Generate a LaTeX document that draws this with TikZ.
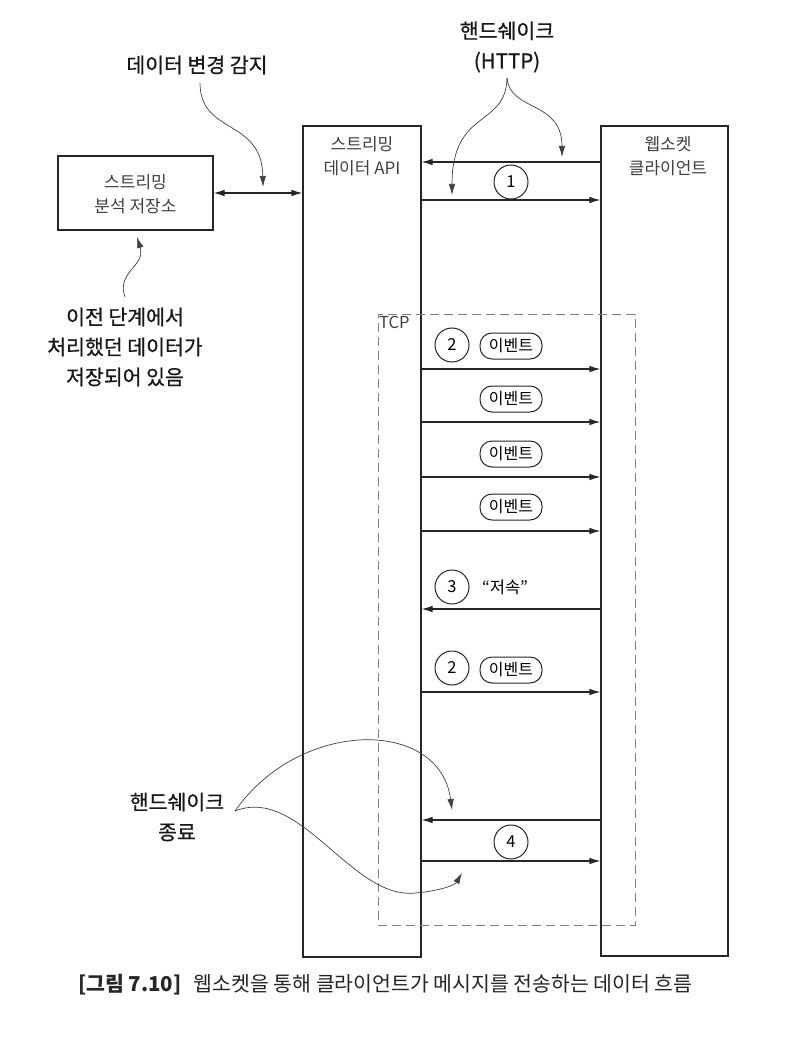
\documentclass[tikz,border=0pt]{standalone}
\usepackage{fontspec}
\setmainfont{Noto Sans CJK KR}
\newfontfamily\lblfont[FakeBold=0.7]{Noto Sans CJK KR}
\usetikzlibrary{arrows.meta,calc}
\begin{document}
\begin{tikzpicture}[x=1pt,y=-1pt,
  box/.style={draw=black!85,line width=1.1pt,inner sep=0pt},
  boxlabel/.style={text=black!75,font=\fontsize{17}{24.5}\selectfont,align=center,inner sep=0pt},
  biglabel/.style={text=black!90,font=\lblfont\fontsize{20.5}{30}\selectfont,align=center,inner sep=0pt},
  msg/.style={line width=1.1pt,draw=black!85,-{Latex[length=11pt,width=6.5pt]}},
  note/.style={line width=0.7pt,draw=black!75,-{Latex[length=11pt,width=6.5pt]}},
  circ/.style={draw=black!85,line width=1pt,circle,minimum size=34pt,inner sep=0pt,font=\fontsize{16.5}{16.5}\selectfont},
  pill/.style={draw=black!85,line width=1pt,rounded corners=12pt,minimum width=62pt,minimum height=26pt,inner sep=0pt,font=\fontsize{16}{16}\selectfont},
  tcpbox/.style={draw=black!50,line width=1pt,dash pattern=on 9pt off 5pt}
]
\useasboundingbox (0,0) rectangle (796,1040);
\fill[white] (0,0) rectangle (796,1040);

% main boxes
\node[box,minimum width=155pt,minimum height=74pt] (store) at (135.5,193) {};
\node[box,minimum width=118pt,minimum height=831pt] (api) at (362,541.5) {};
\node[box,minimum width=127pt,minimum height=830pt] (client) at (664.5,541) {};
\node[tcpbox,minimum width=257pt,minimum height=611pt,inner sep=0pt] (tcp) at (506.5,619.5) {};

\node[boxlabel] (storetxt) at (135.5,194) {스트리밍\\분석 저장소};
\node[boxlabel] (apitxt) at (362,156) {스트리밍\\데이터 API};
\node[boxlabel] (clienttxt) at (668,156) {웹소켓\\클라이언트};
\node[text=black!75,font=\fontsize{16.5}{16.5}\selectfont,anchor=north west,inner sep=0pt] (tcptxt) at (379,316) {TCP};

% outer labels
\node[biglabel] (detect) at (197,65) {데이터 변경 감지};
\node[biglabel] (hs) at (507,47) {핸드쉐이크\\(HTTP)};
\node[biglabel] (prev) at (125,347) {이전 단계에서\\처리했던 데이터가\\저장되어 있음};
\node[biglabel] (hsend) at (177,817) {핸드쉐이크\\종료};

% row coordinates
\coordinate (y1a) at (0,162);
\coordinate (y1b) at (0,200);
\coordinate (y2a) at (0,369);
\coordinate (y2b) at (0,422);
\coordinate (y2c) at (0,477);
\coordinate (y2d) at (0,531);
\coordinate (y3) at (0,609);
\coordinate (y2e) at (0,692);
\coordinate (y4a) at (0,820);
\coordinate (y4b) at (0,861);

% store <-> api
\draw[line width=1.1pt,draw=black!85,{Latex[length=11pt,width=6.5pt]}-{Latex[length=11pt,width=6.5pt]}] (store.east) -- (store.east -| api.west);

% handshake 1
\draw[msg] (client.west |- y1a) -- (api.east |- y1a);
\draw[msg] (api.east |- y1b) -- (client.west |- y1b);
\node[circ] (c1) at (511,182) {1};

% events
\node[circ] (c2) at (452,345) {2};
\node[pill] (e1) at (511,346) {이벤트};
\node[pill] (e2) at (511,399) {이벤트};
\node[pill] (e3) at (511,454) {이벤트};
\node[pill] (e4) at (511,507) {이벤트};
\foreach \r in {y2a,y2b,y2c,y2d,y2e}{
  \draw[msg] (api.east |- \r) -- (client.west |- \r);
}
\node[circ] (c3) at (452,587) {3};
\node[font=\fontsize{16.5}{16.5}\selectfont,inner sep=0pt] (slow) at (505,587) {“저속”};
\draw[msg] (client.west |- y3) -- (api.east |- y3);
\node[circ] (c2b) at (452,668) {2};
\node[pill] (e5) at (511,670) {이벤트};

% close
\draw[msg] (client.west |- y4a) -- (api.east |- y4a);
\draw[msg] (api.east |- y4b) -- (client.west |- y4b);
\node[circ] (c4) at (511,842) {4};

% annotation curves
\coordinate (detectend) at (263,187);
\draw[note] (200,83) .. controls (200,135) and (262,118) .. (detectend);
\coordinate (prevend) at (137,237);
\draw[note] (125,297) .. controls (116,272) and (146,266) .. (prevend);
\coordinate (hsbranch) at (507,78);
\coordinate (hsl) at (452,195);
\coordinate (hsr) at (562,157);
\draw[note] (hsbranch) .. controls (506,128) and (452,108) .. (hsl);
\draw[note] (hsbranch) .. controls (510,112) and (562,100) .. (hsr);
\coordinate (hsendtip) at (235,811);
\coordinate (hsendup) at (452,810);
\coordinate (hsenddown) at (462,873);
\draw[note] (hsendtip) .. controls (300,718) and (440,718) .. (hsendup);
\draw[note] (hsendtip) .. controls (300,785) and (352,900) .. (415,893) .. controls (440,891) and (455,885) .. (hsenddown);

% caption
\node[anchor=west,inner sep=0pt,font=\fontsize{20.5}{20.5}\selectfont,text=black!85] (cap) at (78,985) {\textbf{[그림 7.10]}\hspace{12pt}웹소켓을 통해 클라이언트가 메시지를 전송하는 데이터 흐름};
\end{tikzpicture}
\end{document}
